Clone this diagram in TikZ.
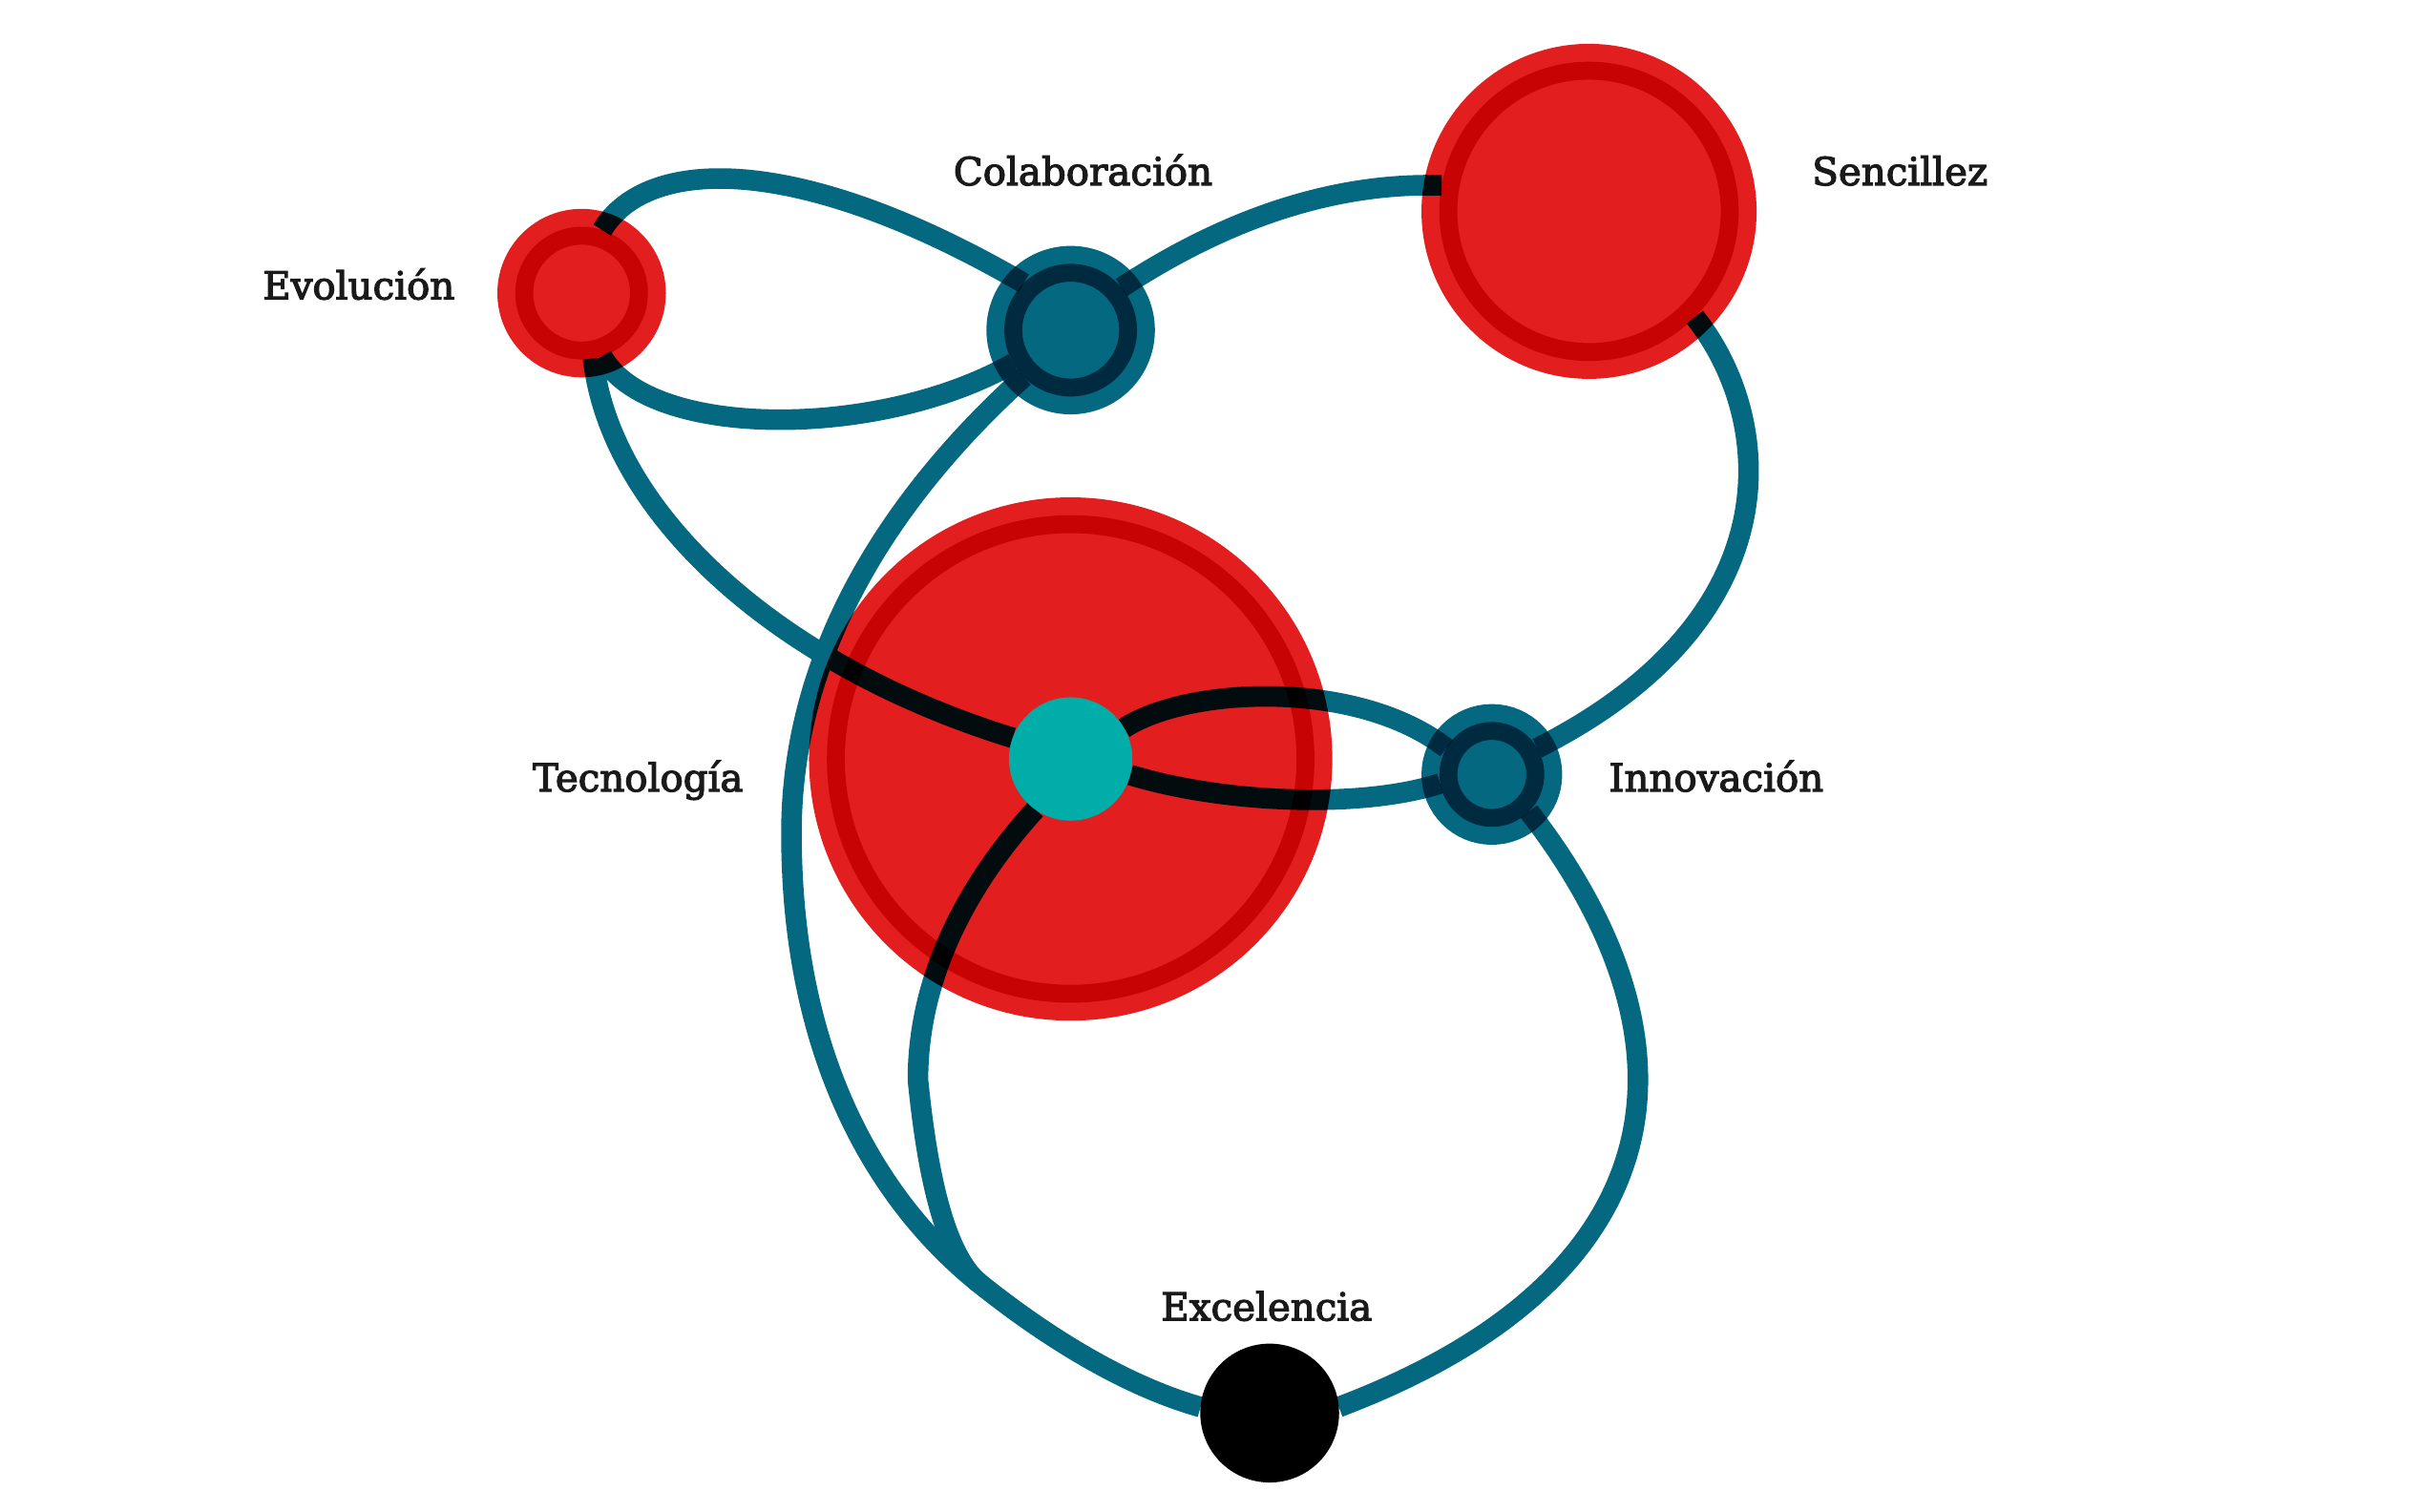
\documentclass[tikz,border=0pt]{standalone}
\usepackage{fontspec}
\setmainfont{DejaVu Serif}
\newfontfamily\etiq[FakeBold=3]{DejaVu Serif}
\usepackage{xcolor}
\usepackage{tikz}

\definecolor{rojo}{RGB}{226,30,30}
\definecolor{azul}{RGB}{3,104,128}
\definecolor{turquesa}{RGB}{0,173,168}
\definecolor{tinta}{RGB}{26,26,26}

\begin{document}
\begin{tikzpicture}[
    bola/.style={circle, inner sep=0pt, outer sep=0pt, line width=6.6pt},
    bolaroja/.style={bola, preaction={fill=rojo}, draw=rojo},
    bolaazul/.style={bola, preaction={fill=azul}, draw=azul},
    enlace/.style={azul, line width=3.8pt},
    etiqueta/.style={anchor=base, text=tinta, font=\etiq\fontsize{7.1}{8}\selectfont}
]
    \useasboundingbox (0,0) rectangle (15.68,9.80);

    \begin{scope}[blend mode=multiply]
        % 1. Nodos (el grosor del borde solapa el relleno)
        \node[bolaroja, minimum size=0.86cm] (evo) at (3.77,7.90) {};
        \node[bolaazul, minimum size=0.86cm] (col) at (6.94,7.66) {};
        \node[bolaroja, minimum size=1.94cm] (sen) at (10.30,8.43) {};
        \node[bolaroja, minimum size=3.16cm] (tecR) at (6.94,4.88) {};
        \node[bolaazul, minimum size=0.68cm] (inn) at (9.67,4.78) {};
    \end{scope}

    % centro de Tecnologia y Excelencia (solo como ancla)
    \node[circle, minimum size=0.80cm, inner sep=0pt, outer sep=0pt] (tec) at (6.94,4.88) {};
    \node[circle, minimum size=0.90cm, inner sep=0pt, outer sep=0pt] (exc) at (8.23,0.64) {};
    \coordinate (izq) at (5.13,4.40);
    \coordinate (baj) at (5.95,2.80);
    \coordinate (jun) at (6.35,1.48);

    \begin{scope}[blend mode=multiply]
    \begin{scope}[transparency group]
    \begin{scope}[blend mode=normal]
        % 2. Enlaces
        \draw[enlace] (evo.72) .. controls (4.20,8.80) and (5.20,8.80) .. (col.135);
        \draw[enlace] (evo.288) .. controls (4.20,6.95) and (5.70,6.95) .. (col.210);
        \draw[enlace] (col.40) .. controls (7.90,8.35) and (8.60,8.62) .. (sen.170);
        \draw[enlace] (sen.-45) .. controls (11.50,7.10) and (11.65,5.80) .. (inn.30);
        \draw[enlace] (evo.-80) .. controls (3.95,6.50) and (5.00,5.50) .. (tec.160);
        \draw[enlace] (col.225) .. controls (5.80,6.60) and (5.13,5.60) .. (izq)
            .. controls (5.13,2.80) and (5.80,1.92) .. (jun)
            .. controls (6.85,1.08) and (7.35,0.80) .. (exc.175);
        \draw[enlace] (tec.30) .. controls (7.70,5.35) and (8.80,5.40) .. (inn.150);
        \draw[enlace] (tec.-15) .. controls (7.90,4.60) and (8.80,4.55) .. (inn.190);
        \draw[enlace] (tec.235) .. controls (6.30,4.10) and (5.95,3.50) .. (baj)
            .. controls (6.00,2.30) and (6.10,1.68) .. (jun);
        \draw[enlace] (inn.-45) .. controls (11.10,3.00) and (10.85,1.50) .. (exc.5);
    \end{scope}
    \end{scope}
    \end{scope}

    % 3. Nodos opacos encima
    \fill[turquesa] (tec) circle (0.40);
    \fill[black] (exc) circle (0.45);

    % 4. Etiquetas
    \node[etiqueta] at (2.325,7.86) {Evolución};
    \node[etiqueta] at (7.02,8.60) {Colaboración};
    \node[etiqueta] at (12.315,8.60) {Sencillez};
    \node[etiqueta] at (4.135,4.67) {Tecnología};
    \node[etiqueta] at (11.125,4.67) {Innovación};
    \node[etiqueta] at (8.21,1.24) {Excelencia};
\end{tikzpicture}
\end{document}
